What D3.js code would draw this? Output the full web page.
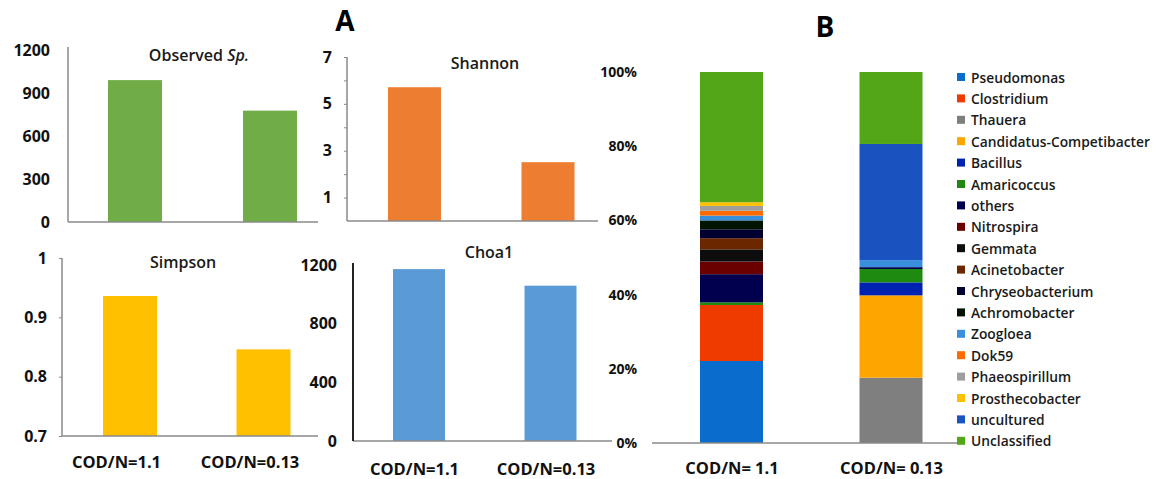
<!DOCTYPE html>
<html>
<head>
<meta charset="utf-8">
<script src="https://cdn.jsdelivr.net/npm/d3@7"></script>
<style>
  body { margin: 0; background: #fff; }
  text { font-family: 'Open Sans', sans-serif; }
</style>
</head>
<body>
<div id="graph"></div>
<script>
const w = 1159;
const h = 479;

// panel A: diversity indices
const groupsA = ['COD/N=1.1', 'COD/N=0.13'];
const observedSp = [990, 777];
const shannon = [5.71, 2.51];
const simpson = [0.936, 0.846];
const choa1 = [1172, 1059];

// panel B: relative abundance (%) of genera, bottom to top
const groupsB = ['COD/N= 1.1', 'COD/N= 0.13'];
const genera = ['Pseudomonas', 'Clostridium', 'Thauera', 'Candidatus-Competibacter', 'Bacillus',
  'Amaricoccus', 'others', 'Nitrospira', 'Gemmata', 'Acinetobacter', 'Chryseobacterium',
  'Achromobacter', 'Zoogloea', 'Dok59', 'Phaeospirillum', 'Prosthecobacter', 'uncultured', 'Unclassified'];
const abundance11 = [22.1, 15.1, 0, 0, 0, 0.7, 7.6, 3.4, 3.3, 3.0, 2.4, 2.4, 1.3, 1.3, 1.3, 1.0, 0, 35.1];
const abundance013 = [0, 0, 17.6, 22.2, 3.5, 3.6, 0.5, 0, 0, 0, 0, 0, 1.9, 0, 0, 0, 31.3, 19.4];
const percentTicks = [0, 20, 40, 60, 80, 100];

const generaColors = ['#0a6ccc', '#ef3a00', '#7f7f7f', '#ffa500', '#0022b0', '#1f8a10', '#00004f',
  '#6b0000', '#0d0d0d', '#6b2800', '#000030', '#001400', '#3a8fdd', '#ff6a00', '#9e9e9e',
  '#ffc000', '#1a52c0', '#52a618'];

const svg = d3.select('#graph')
              .append('svg')
              .attr('width', w)
              .attr('height', h);

svg.append('rect').attr('width', w).attr('height', h).attr('fill', '#fff');

function miniChart(o) {
  const yScale = d3.scaleLinear()
                   .domain(o.domain)
                   .range([o.y0, o.y1]);
  const xScale = d3.scalePoint()
                   .domain(groupsA)
                   .range(o.centers);

  svg.append('g')
     .selectAll('rect')
     .data(o.values)
     .join('rect')
     .attr('x', (d, i) => xScale(groupsA[i]) - o.bw / 2)
     .attr('y', (d) => yScale(d))
     .attr('width', o.bw)
     .attr('height', (d) => o.y0 - yScale(d))
     .attr('fill', o.color);

  // baseline + vertical axis line
  svg.append('line')
     .attr('x1', o.axisX).attr('x2', o.baseEnd)
     .attr('y1', o.y0).attr('y2', o.y0)
     .attr('stroke', '#8a8a8a').attr('stroke-width', 1.5);
  svg.append('line')
     .attr('x1', o.axisX).attr('x2', o.axisX)
     .attr('y1', o.y0).attr('y2', o.axisTop)
     .attr('stroke', o.axisColor || '#8a8a8a').attr('stroke-width', o.axisColor ? 2 : 1.5);

  const ax = svg.append('g')
     .attr('transform', 'translate(' + o.axisX + ',0)')
     .style('font-size', '16px')
     .style('font-weight', 'bold')
     .call(d3.axisLeft(yScale)
             .tickValues(o.ticks)
             .tickSize(o.tickSize)
             .tickPadding(o.pad)
             .tickFormat(o.fmt));
  ax.select('.domain').remove();
  ax.selectAll('line').attr('stroke', '#8a8a8a');
  ax.selectAll('text').attr('fill', '#111').attr('font-family', "'Open Sans', sans-serif");

  if (o.showX) {
    // category labels sit a little left of the bars in the original
    const xa = svg.append('g')
       .attr('transform', 'translate(' + o.xShift + ',' + o.y0 + ')')
       .style('font-size', '16.5px')
       .style('font-weight', 'bold')
       .call(d3.axisBottom(xScale).tickSize(0).tickPadding(o.xPad));
    xa.select('.domain').remove();
    xa.selectAll('text').attr('fill', '#111').attr('font-family', "'Open Sans', sans-serif");
  }

  const t = svg.append('text')
     .attr('x', o.titleX)
     .attr('y', o.titleY)
     .attr('text-anchor', 'middle')
     .attr('dominant-baseline', 'central')
     .style('font-size', '16px')
     .style('font-weight', 600)
     .style('fill', '#1a1a1a');
  t.append('tspan').text(o.title);
  if (o.titleItalic) t.append('tspan').style('font-style', 'italic').text(o.titleItalic);
}

miniChart({
  values: observedSp, domain: [0, 1200], y0: 222, y1: 50, axisTop: 47, axisX: 68, baseEnd: 318,
  centers: [135, 270], bw: 54, color: '#70ad47',
  ticks: [0, 300, 600, 900, 1200], tickSize: 0, pad: 18, fmt: d3.format('d'),
  title: 'Observed ', titleItalic: 'Sp.', titleX: 199, titleY: 55
});

miniChart({
  values: shannon, domain: [0, 7], y0: 221, y1: 57, axisTop: 57, axisX: 347, baseEnd: 598,
  centers: [414.5, 548], bw: 53, color: '#ed7d31',
  ticks: [1, 2, 3, 4, 5, 6, 7], tickSize: 3, pad: 12, fmt: (d) => (d % 2 ? d : ''),
  title: 'Shannon', titleX: 485, titleY: 63
});

miniChart({
  values: simpson, domain: [0.7, 1.0], y0: 436, y1: 258, axisTop: 258, axisX: 62, baseEnd: 318,
  centers: [130, 263.5], bw: 54, color: '#ffc000',
  ticks: [0.7, 0.8, 0.9, 1.0], tickSize: 3, pad: 12, fmt: d3.format('~g'),
  showX: true, xPad: 20, xShift: -14,
  title: 'Simpson', titleX: 183, titleY: 262
});

miniChart({
  values: choa1, domain: [0, 1200], y0: 441, y1: 265, axisTop: 263, axisX: 353, baseEnd: 612,
  centers: [419, 550.5], bw: 52, color: '#5b9bd5', axisColor: '#222',
  ticks: [0, 400, 800, 1200], tickSize: 0, pad: 16, fmt: d3.format('d'),
  showX: true, xPad: 22, xShift: -5,
  title: 'Choa1', titleX: 489, titleY: 252
});

// panel B stacked bars
const tableB = groupsB.map(function (g, gi) {
  const row = { group: g };
  genera.forEach(function (k, i) {
    row[k] = (gi === 0 ? abundance11 : abundance013)[i];
  });
  return row;
});

const series = d3.stack().keys(genera)(tableB);

const yB = d3.scaleLinear()
             .domain([0, 100])
             .range([443, 72]);
const xB = d3.scalePoint()
             .domain(groupsB)
             .range([731.5, 891]);
const bwB = 63;
const color = d3.scaleOrdinal().domain(genera).range(generaColors);

svg.append('g')
   .selectAll('g')
   .data(series)
   .join('g')
   .attr('fill', (s) => color(s.key))
   .selectAll('rect')
   .data((s) => s)
   .join('rect')
   .attr('x', (d) => xB(d.data.group) - bwB / 2)
   .attr('y', (d) => yB(d[1]))
   .attr('width', bwB)
   .attr('height', (d) => yB(d[0]) - yB(d[1]));

svg.append('line')
   .attr('x1', 652).attr('x2', 962)
   .attr('y1', yB(0)).attr('y2', yB(0))
   .attr('stroke', '#8a8a8a').attr('stroke-width', 1.5);

const axB = svg.append('g')
   .attr('transform', 'translate(645,0)')
   .style('font-size', '14px')
   .style('font-weight', 'bold')
   .call(d3.axisLeft(yB).tickValues(percentTicks).tickSize(0).tickPadding(8)
           .tickFormat((d) => d + '%'));
axB.select('.domain').remove();
axB.selectAll('text').attr('fill', '#111').attr('font-family', "'Open Sans', sans-serif");

const xaB = svg.append('g')
   .attr('transform', 'translate(0,' + yB(0) + ')')
   .style('font-size', '16.5px')
   .style('font-weight', 'bold')
   .call(d3.axisBottom(xB).tickSize(0).tickPadding(19));
xaB.select('.domain').remove();
xaB.selectAll('text').attr('fill', '#111').attr('font-family', "'Open Sans', sans-serif");

// legend
const legend = svg.append('g')
   .selectAll('g')
   .data(genera)
   .join('g')
   .attr('transform', (d, i) => 'translate(957,' + (77 + i * 21.4) + ')');

legend.append('rect')
   .attr('x', 0).attr('y', -4)
   .attr('width', 8).attr('height', 8)
   .attr('fill', (d) => color(d));

legend.append('text')
   .attr('x', 14)
   .attr('dominant-baseline', 'central')
   .style('font-size', '13.8px')
   .style('font-weight', 600)
   .style('fill', '#1a1a1a')
   .text((d) => d);

// panel letters
svg.append('text')
   .attr('x', 345).attr('y', 20)
   .attr('text-anchor', 'middle').attr('dominant-baseline', 'central')
   .style('font-size', '28px').style('font-weight', 'bold')
   .text('A');

svg.append('text')
   .attr('x', 825).attr('y', 26)
   .attr('text-anchor', 'middle').attr('dominant-baseline', 'central')
   .style('font-size', '28px').style('font-weight', 'bold')
   .text('B');
</script>
</body>
</html>
